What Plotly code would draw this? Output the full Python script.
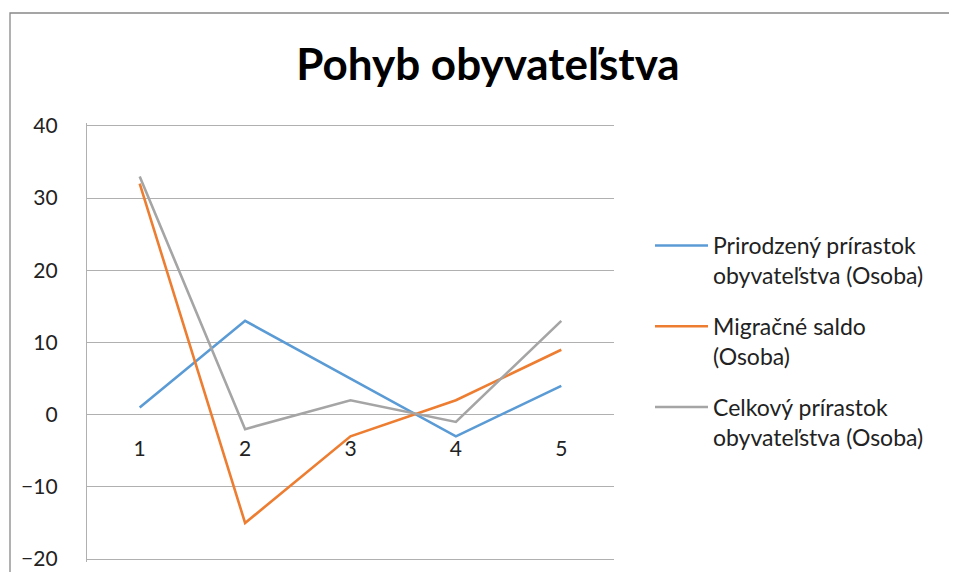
import plotly.graph_objects as go

categories = ["1", "2", "3", "4", "5"]
prirodzeny = [1, 13, 5, -3, 4]
migracne = [32, -15, -3, 2, 9]
celkovy = [33, -2, 2, -1, 13]
series_names = [
    "Prirodzený prírastok<br>obyvateľstva (Osoba)",
    "Migračné saldo<br>(Osoba)",
    "Celkový prírastok<br>obyvateľstva (Osoba)",
]
colors = ["#5B9BD5", "#ED7D31", "#A5A5A5"]
y_ticks = [-20, -10, 0, 10, 20, 30, 40]

# the page body adds an 8px margin on every side; size the figure so the page does not scroll
OFF = 8
W, H = 957 - 2 * OFF, 580 - 2 * OFF
ymin, ymax = -20.4, 40.4
px_per_unit = (559 - 126) / 60.0
pad = 0.4 * px_per_unit
L = 87 - OFF
T = int(round(126 - pad - OFF))
plot_w = 614 - 87
plot_h = int(round(559 + pad - OFF)) - T
R = W - L - plot_w
B = H - T - plot_h

fig = go.Figure()
for i, (name, vals, c) in enumerate(zip(series_names, [prirodzeny, migracne, celkovy], colors)):
    fig.add_trace(go.Scatter(x=categories, y=vals, mode="lines", name=name,
                             legendgroup="g%d" % i,
                             line=dict(color=c, width=2.6)))

font_family = "Lato, Open Sans, sans-serif"
y0_frac = (0 - ymin) / (ymax - ymin)


def fy(px_window):
    return (H - B - (px_window - OFF)) / plot_h


def fx(px_window):
    return (px_window - OFF - L) / plot_w


fig.update_layout(
    width=W, height=H,
    margin=dict(l=L, r=R, t=T, b=B, autoexpand=False),
    paper_bgcolor="white", plot_bgcolor="white",
    title=dict(text="<b>Pohyb obyvateľstva</b>", x=(488 - OFF) / W, xanchor="center",
               y=1 - (65 - OFF) / H, yanchor="middle",
               font=dict(family=font_family, size=44, color="black")),
    font=dict(family=font_family, size=21, color="#222"),
    showlegend=True,
    legend=dict(x=fx(650), xanchor="left", y=fy(224), yanchor="top",
                valign="top", tracegroupgap=18, itemwidth=53,
                font=dict(family=font_family, size=23, color="#222"),
                bgcolor="rgba(0,0,0,0)"),
    xaxis=dict(type="category", range=[-0.5, 4.5], showgrid=False, zeroline=False,
               showline=False, anchor="free", position=y0_frac, automargin=False,
               ticks="", ticklabelstandoff=19,
               tickfont=dict(family=font_family, size=21, color="#222")),
    yaxis=dict(range=[ymin, ymax], tickvals=y_ticks, showgrid=True, gridcolor="#B0B0B0",
               gridwidth=1.3, zeroline=True, zerolinecolor="#B0B0B0", zerolinewidth=1.3,
               showline=True, linecolor="#B0B0B0", linewidth=1.3, ticks="",
               ticklabelstandoff=24, automargin=False,
               tickfont=dict(family=font_family, size=21, color="#222")),
    shapes=[dict(type="rect", xref="paper", yref="paper",
                 x0=fx(10), x1=fx(W + 60),
                 y0=-0.3, y1=fy(13),
                 line=dict(color="#888888", width=1.3), fillcolor="rgba(0,0,0,0)", layer="below")],
)

fig.write_html("out.html", config={"displayModeBar": False})
